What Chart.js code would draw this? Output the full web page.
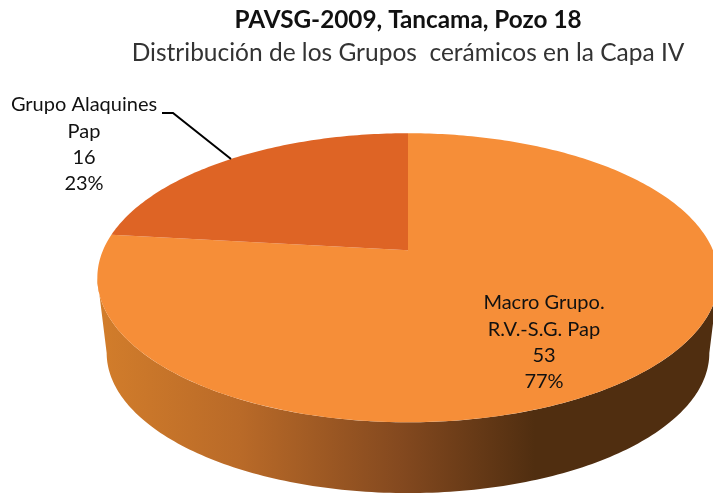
<!DOCTYPE html>
<html>
<head>
<meta charset="utf-8">
<style>
html, body { margin: 0; padding: 0; background: #fff; }
#wrap { width: 713px; height: 493px; overflow: hidden; }
</style>
<script src="https://cdn.jsdelivr.net/npm/chart.js@4"></script>
</head>
<body>
<div id="wrap"><canvas id="grafico" width="713" height="493"></canvas></div>
<script>
const categorias = [["Macro Grupo.", "R.V.-S.G. Pap"], ["Grupo Alaquines", "Pap"]];
const valores = [53, 16];
const colores = ["#f68e38", "#de6425"];
const titulo = "PAVSG-2009, Tancama, Pozo 18";
const subtitulo = "Distribución de los Grupos  cerámicos en la Capa IV";

// perspective of the disc, in pixels of the picture
const tilt = { k: 0.19, halfW: 305, halfH: 139.3, drop: 76, shrink: 0.97 };
const labelPos = [{ x: 544, y: 303 }, { x: 84, y: 105 }];
const leader = [[162, 113], [173, 113], [231, 159]];

function proj(cx, cy, a, lower) {
    const u = Math.cos(a), v = Math.sin(a);
    const w = 1 - tilt.k * v;
    const s = lower ? tilt.shrink : 1;
    return [cx + tilt.halfW * s * u / w, cy + (lower ? tilt.drop : 0) + tilt.halfH * s * v / w];
}

function arcPath(ctx, cx, cy, a0, a1, lower, first) {
    const n = Math.max(2, Math.ceil(Math.abs(a1 - a0) * 60));
    for (let i = 0; i <= n; i++) {
        const p = proj(cx, cy, a0 + (a1 - a0) * i / n, lower);
        if (i === 0 && first) ctx.moveTo(p[0], p[1]);
        else ctx.lineTo(p[0], p[1]);
    }
}

const disco3d = {
    id: "disco3d",
    beforeDatasetDraw(chart, args) {
        const ctx = chart.ctx;
        const arcs = chart.getDatasetMeta(args.index).data;
        const x0 = arcs[0].x, y0 = arcs[0].y;
        const side = Math.asin(tilt.k);

        // side wall
        const grad = ctx.createLinearGradient(99, 0, 713, 0);
        grad.addColorStop(0, "#d27d2b");
        grad.addColorStop(0.23, "#b96a28");
        grad.addColorStop(0.49, "#84491f");
        grad.addColorStop(0.71, "#502e10");
        grad.addColorStop(1, "#502e10");
        arcs.forEach(arc => {
            const a0 = Math.max(arc.startAngle, side);
            const a1 = Math.min(arc.endAngle, Math.PI - side);
            if (a1 <= a0) return;
            ctx.beginPath();
            arcPath(ctx, x0, y0, a0, a1, false, true);
            arcPath(ctx, x0, y0, a1, a0, true, false);
            ctx.closePath();
            ctx.fillStyle = grad;
            ctx.fill();
        });

        // top of the disc
        arcs.forEach((arc, i) => {
            ctx.beginPath();
            ctx.moveTo(x0, y0);
            arcPath(ctx, x0, y0, arc.startAngle, arc.endAngle, false, false);
            ctx.closePath();
            ctx.fillStyle = colores[i];
            ctx.fill();
        });

        // labels
        const total = valores.reduce((a, b) => a + b, 0);
        ctx.fillStyle = "#111";
        ctx.font = "20px Lato";
        ctx.textAlign = "center";
        ctx.textBaseline = "middle";
        categorias.forEach((cat, i) => {
            const lines = [...cat, String(valores[i]), Math.round(valores[i] / total * 100) + "%"];
            lines.forEach((t, j) => ctx.fillText(t, labelPos[i].x, labelPos[i].y + j * 26.3));
        });

        ctx.beginPath();
        leader.forEach((p, i) => i ? ctx.lineTo(p[0], p[1]) : ctx.moveTo(p[0], p[1]));
        ctx.strokeStyle = "#000";
        ctx.lineWidth = 2;
        ctx.stroke();
        return false;
    }
};

new Chart(document.getElementById("grafico"), {
    type: "pie",
    data: {
        labels: categorias,
        datasets: [{ data: valores, backgroundColor: colores, borderWidth: 0 }],
    },
    options: {
        responsive: false,
        animation: false,
        events: [],
        layout: { padding: { left: 103, right: 0, top: 6, bottom: 60 } },
        plugins: {
            legend: { display: false },
            tooltip: { enabled: false },
            title: {
                display: true,
                text: titulo,
                color: "#111",
                font: { family: "Lato", size: 24.3, weight: "bold" },
                padding: { top: 0, bottom: 3 },
            },
            subtitle: {
                display: true,
                text: subtitulo,
                color: "#333",
                font: { family: "Lato", size: 24.5, weight: "normal" },
                padding: { top: 0, bottom: 0 },
            },
        },
    },
    plugins: [disco3d],
});
</script>
</body>
</html>
